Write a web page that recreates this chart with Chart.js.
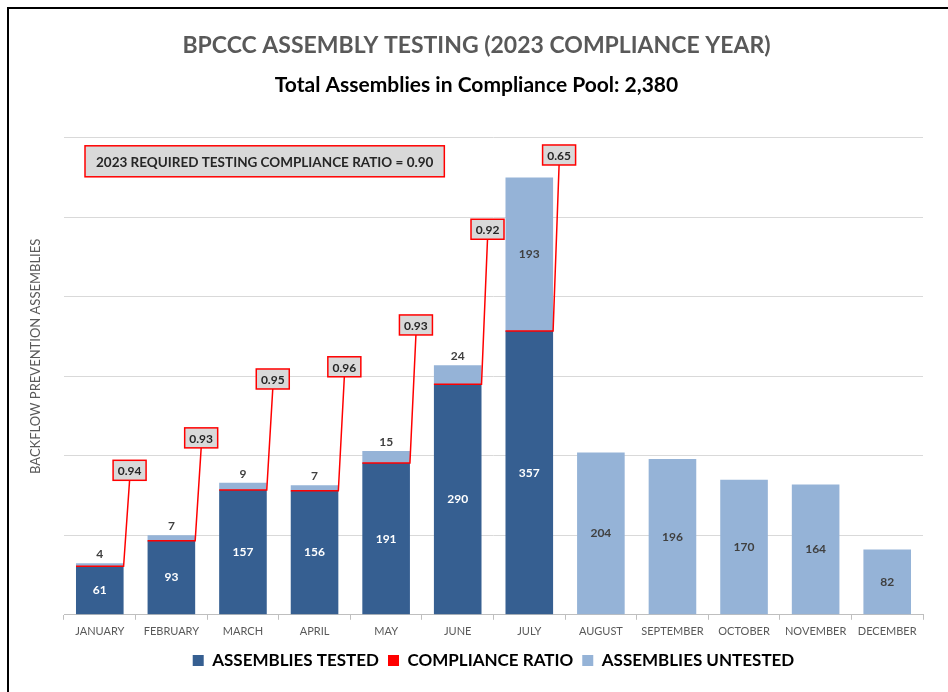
<!DOCTYPE html>
<html>
<head>
<meta charset="utf-8">
<title>BPCCC Assembly Testing</title>
<script src="https://cdn.jsdelivr.net/npm/chart.js@4.4.0/dist/chart.umd.min.js"></script>
<style>
	html, body { margin:0; padding:0; background:#fff; }
	#wrap { position:relative; width:948px; height:692px; overflow:hidden; }
	#frame { position:absolute; left:7px; top:7px; right:-4px; bottom:-4px; border-left:2px solid #000; border-top:2px solid #000; pointer-events:none; }
</style>
</head>
<body>
<div id="wrap">
	<canvas id="chart" width="948" height="692"></canvas>
	<div id="frame"></div>
</div>
<script>
// data
const MONTHS = ['JANUARY','FEBRUARY','MARCH','APRIL','MAY','JUNE','JULY','AUGUST','SEPTEMBER','OCTOBER','NOVEMBER','DECEMBER'];
const TESTED = [61, 93, 157, 156, 191, 290, 357, null, null, null, null, null];
const UNTESTED = [4, 7, 9, 7, 15, 24, 193, 204, 196, 170, 164, 82];
const RATIO = ['0.94', '0.93', '0.95', '0.96', '0.93', '0.92', '0.65'];
const REQUIRED_RATIO = '0.90';
const Y_TICKS = [0, 100, 200, 300, 400, 500, 600];

// layout only: how far (px) each ratio label sits above its tested bar
const LABEL_LIFT = [96, 103, 111, 124, 138, 155, 176];

const DARK = '#365F91';
const LIGHT = '#95B3D7';
const RED = '#FF0000';
const FONT = 'Lato, "Open Sans", sans-serif';

(function(){
	const canvas = document.getElementById('chart');

	const labelPlugin = {
		id: 'barLabels',
		afterDatasetsDraw(chart){
			const ctx = chart.ctx;
			const area = chart.chartArea;
			const tested = chart.getDatasetMeta(0).data;
			const untested = chart.getDatasetMeta(1).data;
			ctx.save();
			ctx.textAlign = 'center';
			ctx.textBaseline = 'middle';

			// y axis title, sits a bit above the middle like the original
			ctx.save();
			ctx.translate(36, (area.top + area.bottom) / 2 - 20);
			ctx.rotate(-Math.PI / 2);
			ctx.font = '13px ' + FONT;
			ctx.fillStyle = '#595959';
			ctx.fillText('BACKFLOW PREVENTION ASSEMBLIES', 0, 0);
			ctx.restore();

			// values inside the tested segment
			ctx.font = 'bold 12px ' + FONT;
			ctx.fillStyle = '#ffffff';
			tested.forEach((bar, i) => {
				if(TESTED[i] == null) return;
				ctx.fillText(String(TESTED[i]), bar.x, (bar.y + bar.base) / 2);
			});

			// untested values: inside if there is room, else on top
			ctx.fillStyle = '#404040';
			untested.forEach((bar, i) => {
				const h = Math.abs(bar.base - bar.y);
				if(h > 24) ctx.fillText(String(UNTESTED[i]), bar.x, (bar.y + bar.base) / 2);
				else ctx.fillText(String(UNTESTED[i]), bar.x, bar.y - 9);
			});

			// compliance ratio: red cap on tested segment + leader + boxed label
			RATIO.forEach((r, i) => {
				const bar = tested[i];
				const half = bar.width / 2;
				const right = bar.x + half;
				const bx = right + 6;
				const by = bar.y - LABEL_LIFT[i];
				const bw = 33, bh = 20;
				ctx.strokeStyle = RED;
				ctx.lineWidth = 1.5;
				ctx.beginPath();
				ctx.moveTo(bar.x - half, bar.y);
				ctx.lineTo(right, bar.y);
				ctx.lineTo(bx, by + bh / 2);
				ctx.stroke();
				ctx.fillStyle = '#D9D9D9';
				ctx.fillRect(bx - bw / 2, by - bh / 2, bw, bh);
				ctx.strokeRect(bx - bw / 2, by - bh / 2, bw, bh);
				ctx.fillStyle = '#262626';
				ctx.font = 'bold 12px ' + FONT;
				ctx.fillText(r, bx, by + 1);
			});

			// required ratio note
			const note = '2023 REQUIRED TESTING COMPLIANCE RATIO = ' + REQUIRED_RATIO;
			ctx.font = 'bold 13.5px ' + FONT;
			const tw = ctx.measureText(note).width;
			const nx = area.left + 21, ny = area.top + 8, nw = tw + 22, nh = 31;
			ctx.fillStyle = '#D9D9D9';
			ctx.fillRect(nx, ny, nw, nh);
			ctx.strokeStyle = RED;
			ctx.lineWidth = 1.5;
			ctx.strokeRect(nx, ny, nw, nh);
			ctx.fillStyle = '#262626';
			ctx.fillText(note, nx + nw / 2, ny + nh / 2 + 1);
			ctx.restore();
		}
	};

	new Chart(canvas, {
		type: 'bar',
		data: {
			labels: MONTHS,
			datasets: [
				{ label:'ASSEMBLIES TESTED', data: TESTED, backgroundColor: DARK, barPercentage: 0.665, categoryPercentage: 1 },
				{ label:'ASSEMBLIES UNTESTED', data: UNTESTED, backgroundColor: LIGHT, barPercentage: 0.665, categoryPercentage: 1 }
			]
		},
		options: {
			responsive: false,
			animation: false,
			layout: { padding: { left: 30, right: 25, top: 0, bottom: 13 } },
			plugins: {
				title: {
					display: true,
					text: 'BPCCC ASSEMBLY TESTING (2023 COMPLIANCE YEAR)',
					color: '#595959',
					font: { family: FONT, size: 23, weight: 'bold' },
					padding: { top: 32, bottom: 13 }
				},
				subtitle: {
					display: true,
					text: 'Total Assemblies in Compliance Pool: 2,380',
					color: '#000000',
					font: { family: FONT, size: 21, weight: 'bold' },
					padding: { top: 0, bottom: 40 }
				},
				legend: {
					position: 'bottom',
					fullSize: false,
					labels: {
						color: '#595959',
						font: { family: FONT, size: 17, weight: 'bold' },
						boxWidth: 11,
						boxHeight: 11,
						padding: 9,
						generateLabels(){
							return [
								{ text:'ASSEMBLIES TESTED', fillStyle: DARK, strokeStyle: DARK, lineWidth: 0 },
								{ text:'COMPLIANCE RATIO', fillStyle: RED, strokeStyle: RED, lineWidth: 0 },
								{ text:'ASSEMBLIES UNTESTED', fillStyle: LIGHT, strokeStyle: LIGHT, lineWidth: 0 }
							];
						}
					}
				},
				tooltip: { enabled: false }
			},
			scales: {
				x: {
					stacked: true,
					grid: { offset: true, drawOnChartArea: false, drawTicks: true, tickLength: 5, color: '#BFBFBF' },
					border: { color: '#BFBFBF' },
					ticks: { color: '#595959', font: { family: FONT, size: 11 }, padding: 5, maxRotation: 0, autoSkip: false }
				},
				y: {
					stacked: true,
					min: Y_TICKS[0],
					max: Y_TICKS[Y_TICKS.length - 1],
					afterBuildTicks(scale){ scale.ticks = Y_TICKS.map(v => ({ value: v })); },
					afterFit(scale){ scale.width = 34; },
					grid: { color: '#D9D9D9', drawTicks: false },
					border: { display: false },
					ticks: { display: false },
					title: { display: false }
				}
			}
		},
		plugins: [labelPlugin]
	});
})();
</script>
</body>
</html>
